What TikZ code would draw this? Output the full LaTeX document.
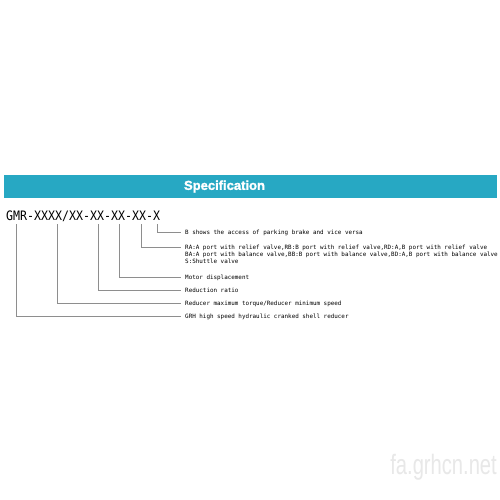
\documentclass[tikz,border=0pt]{standalone}
\usepackage{fontspec}
\setmainfont{Liberation Sans}
\newfontfamily\monofnt{DejaVu Sans Mono}
\newfontfamily\titlefnt[FakeBold=1.6]{Liberation Sans Bold}
\definecolor{bannercol}{HTML}{27A8C3}
\definecolor{linecol}{HTML}{8E8E8E}
\definecolor{wmcol}{HTML}{E8E8E8}
\begin{document}
\begin{tikzpicture}[x=1pt,y=-1pt,
  conn/.style={draw=linecol,line width=0.6pt},
  lbl/.style={anchor=west,inner xsep=4pt,inner ysep=0pt,text height=4.3pt,text depth=0pt,
    font=\monofnt\fontsize{5.9}{6}\selectfont,text=black},
  codetxt/.style={anchor=base west,inner sep=0pt,font=\monofnt\fontsize{13}{13}\selectfont,text=black}]
\useasboundingbox (0,0) rectangle (500,500);
\fill[white] (0,0) rectangle (500,500);
% banner
\fill[bannercol] (3.5,174.5) rectangle (497,197.5);
\node[text=white,font=\titlefnt\fontsize{13}{14}\selectfont,inner sep=0pt] (title) at (224.5,186.5) {Specification};
% code
\node[codetxt] (code) at (6,220) {\scalebox{0.894}[1]{GMR-XXXX/XX-XX-XX-XX-X}};
% field anchors
\coordinate (f1) at (16,224);
\coordinate (f2) at (57,224);
\coordinate (f3) at (98,224);
\coordinate (f4) at (119,224);
\coordinate (f5) at (141,224);
\coordinate (f6) at (157,224);
% labels
\node[lbl] (t6) at (181,232.5) {B shows the access of parking brake and vice versa};
\node[lbl] (t5) at (181,247) {RA:A port with relief valve,RB:B port with relief valve,RD:A,B port with relief valve};
\node[lbl] (t5b) at (181,254) {BA:A port with balance valve,BB:B port with balance valve,BD:A,B port with balance valve};
\node[lbl] (t5c) at (181,261) {S:Shuttle valve};
\node[lbl] (t4) at (181,277.5) {Motor displacement};
\node[lbl] (t3) at (181,290.5) {Reduction ratio};
\node[lbl] (t2) at (181,303.5) {Reducer maximum torque/Reducer minimum speed};
\node[lbl] (t1) at (181,316.5) {GRH high speed hydraulic cranked shell reducer};
% connectors
\draw[conn] (f6) |- (t6.west);
\draw[conn] (f5) |- (t5.west);
\draw[conn] (f4) |- (t4.west);
\draw[conn] (f3) |- (t3.west);
\draw[conn] (f2) |- (t2.west);
\draw[conn] (f1) |- (t1.west);
% watermark
\node[anchor=base east,inner sep=0pt,text=wmcol,font=\fontsize{28}{28}\selectfont] (wm) at (497,474) {\scalebox{0.72}[1]{fa.grhcn.net}};
\end{tikzpicture}
\end{document}
